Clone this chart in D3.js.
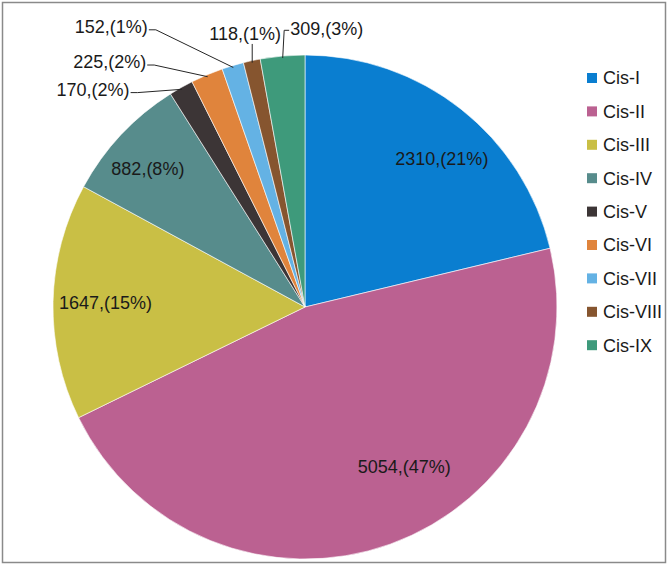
<!DOCTYPE html>
<html>
<head>
<meta charset="utf-8">
<script src="https://cdn.jsdelivr.net/npm/d3@7"></script>
<style>
  body { margin: 0; background: #fff; }
  text { font-family: "Liberation Sans", Arial, sans-serif; }
</style>
</head>
<body>
<script>
// chart data
var categories = ['Cis-I', 'Cis-II', 'Cis-III', 'Cis-IV', 'Cis-V', 'Cis-VI', 'Cis-VII', 'Cis-VIII', 'Cis-IX'];
var values = [2310, 5054, 1647, 882, 170, 225, 152, 118, 309];
var percentLabels = ['21%', '47%', '15%', '8%', '2%', '2%', '1%', '1%', '3%'];
var colors = ['#0a7ed0', '#bb6191', '#c9bf45', '#578c8c', '#3c3536', '#e0843c', '#64b2e4', '#86552f', '#3e9a7b'];

// label placement: inside labels nudge from the 0.8r point, outside ones from the slice edge
var isOutside = [false, false, false, false, true, true, true, true, true];
var labelNudge = [[12, 10], [31, -30], [2, 0], [-10, -1], [-89, 0], [-98, -15], [-122, -41], [-7, -29], [44, -29]];

var width = 670, height = 567;
var cx = 305, cy = 307, radius = 252;

var svg = d3.select('body').append('svg')
  .attr('width', width)
  .attr('height', height);

svg.append('rect')
  .attr('x', 2.5).attr('y', 2.5)
  .attr('width', 663).attr('height', 560)
  .attr('fill', '#fff')
  .attr('stroke', '#8a8a8a')
  .attr('stroke-width', 1.5);

var pie = d3.pie().sort(null).value(function(d) { return d; });
var arcs = pie(values);

var arc = d3.arc().innerRadius(0).outerRadius(radius);
var labelArc = d3.arc().innerRadius(radius * 0.8).outerRadius(radius * 0.8);
var edgeArc = d3.arc().innerRadius(radius - 2).outerRadius(radius - 2);

var g = svg.append('g').attr('transform', 'translate(' + cx + ',' + cy + ')');

g.selectAll('path.slice')
  .data(arcs)
  .enter()
  .append('path')
  .attr('class', 'slice')
  .attr('d', arc)
  .attr('fill', function(d, i) { return colors[i]; })
  .attr('stroke', '#fff')
  .attr('stroke-width', 0.6);

var labelText = function(i) { return values[i] + ',(' + percentLabels[i] + ')'; };

arcs.forEach(function(d) {
  var i = d.index;
  var p = isOutside[i] ? edgeArc.centroid(d) : labelArc.centroid(d);
  var t = g.append('text')
    .attr('x', p[0] + labelNudge[i][0])
    .attr('y', p[1] + labelNudge[i][1])
    .attr('text-anchor', 'middle')
    .attr('dy', '0.35em')
    .attr('font-size', 18)
    .attr('fill', '#1a1a1a')
    .text(labelText(i));
  if (!isOutside[i]) return;

  // leader line: short elbow into the label side, like excel draws it
  var b = t.node().getBBox();
  var pts;
  if (p[0] > b.x + b.width) {
    var yr = b.y + b.height * 0.65;
    pts = [p, [b.x + b.width + 8, yr], [b.x + b.width + 1, yr]];
  } else if (p[0] < b.x) {
    var yl = b.y + b.height * 0.55;
    pts = [p, [b.x - 6, yl], [b.x - 1, yl]];
  } else {
    pts = [p, [p[0], b.y + b.height]];
  }
  g.append('path')
    .attr('d', d3.line()(pts))
    .attr('fill', 'none')
    .attr('stroke', '#262626')
    .attr('stroke-width', 1);
});

// legend
var legend = svg.append('g').attr('transform', 'translate(587,78)');
var item = legend.selectAll('g')
  .data(categories)
  .enter()
  .append('g')
  .attr('transform', function(d, i) { return 'translate(0,' + i * 33.4 + ')'; });

item.append('rect')
  .attr('x', 0).attr('y', -5)
  .attr('width', 10).attr('height', 10)
  .attr('fill', function(d, i) { return colors[i]; });

item.append('text')
  .attr('x', 16)
  .attr('dy', '0.35em')
  .attr('font-size', 18)
  .attr('fill', '#1a1a1a')
  .text(function(d) { return d; });
</script>
</body>
</html>
